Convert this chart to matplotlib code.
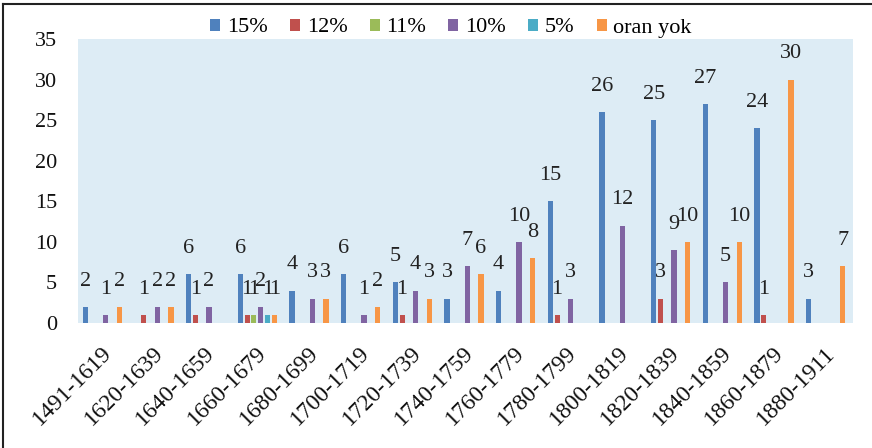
import matplotlib
matplotlib.use('Agg')
import matplotlib.pyplot as plt
import matplotlib.transforms as mtransforms
from matplotlib.patches import Patch
from matplotlib.lines import Line2D
import numpy as np

plt.rcParams['font.family'] = ['Liberation Serif', 'DejaVu Serif']

categories = ['1491-1619', '1620-1639', '1640-1659', '1660-1679', '1680-1699',
              '1700-1719', '1720-1739', '1740-1759', '1760-1779', '1780-1799',
              '1800-1819', '1820-1839', '1840-1859', '1860-1879', '1880-1911']
series_names = ['15%', '12%', '11%', '10%', '5%', 'oran yok']
v15 = [2, 0, 6, 6, 4, 6, 5, 3, 4, 15, 26, 25, 27, 24, 3]
v12 = [0, 1, 1, 1, 0, 0, 1, 0, 0, 1, 0, 3, 0, 1, 0]
v11 = [0, 0, 0, 1, 0, 0, 0, 0, 0, 0, 0, 0, 0, 0, 0]
v10 = [1, 2, 2, 2, 3, 1, 4, 7, 10, 3, 12, 9, 5, 0, 0]
v5 = [0, 0, 0, 1, 0, 0, 0, 0, 0, 0, 0, 0, 0, 0, 0]
vyok = [2, 2, 0, 1, 3, 2, 3, 6, 8, 0, 0, 10, 10, 30, 7]
series = [v15, v12, v11, v10, v5, vyok]
colors = ['#4F81BD', '#C0504D', '#9BBB59', '#8064A2', '#4BACC6', '#F79646']

fig = plt.figure(figsize=(8.72, 4.48), dpi=100)
ax = fig.add_axes([78 / 872, 125 / 448, 775 / 872, 284 / 448])
ax.set_facecolor('#DDECF5')
for s in ax.spines.values():
    s.set_visible(False)

x = np.arange(len(categories))
step = 0.1315
width = 0.1
for j, (vals, col) in enumerate(zip(series, colors)):
    xs = x + (j - 2.5) * step - 0.03
    heights = [v if v > 0 else np.nan for v in vals]
    ax.bar(xs, heights, width=width, color=col, linewidth=0)
    for xi, v in zip(xs, vals):
        if v > 0:
            ax.annotate(str(v), (xi, v), xytext=(0, 18.5), textcoords='offset points',
                        ha='center', va='center', fontsize=16, color='#222222')

ax.set_xlim(-0.5, len(categories) - 0.5)
ax.set_ylim(0, 35)
ax.set_yticks(range(0, 36, 5))
ax.tick_params(axis='y', length=0, pad=15, labelsize=16, labelcolor='#111111')
ax.set_xticks(x)
ax.set_xticklabels(categories, rotation=45, ha='right', va='top',
                   rotation_mode='anchor', fontsize=17, color='#111111')
ax.tick_params(axis='x', length=0, pad=14)
offset = mtransforms.ScaledTranslation(-3 / 100, 0, fig.dpi_scale_trans)
for lab in ax.get_xticklabels():
    lab.set_transform(lab.get_transform() + offset)

handles = [Patch(facecolor=c, edgecolor='none') for c in colors]
fig.legend(handles, series_names, loc='center', bbox_to_anchor=(451 / 872, 1 - 28 / 448),
           ncol=6, frameon=False, fontsize=16, handlelength=0.45, handleheight=0.45,
           handletextpad=0.3, columnspacing=1.0, borderpad=0)

fig.add_artist(Line2D([3 / 872, 3 / 872], [0, 1 - 4 / 448], transform=fig.transFigure,
                      color='#222222', linewidth=1.5))
fig.add_artist(Line2D([3 / 872, 1], [1 - 4 / 448, 1 - 4 / 448], transform=fig.transFigure,
                      color='#222222', linewidth=1.5))

fig.savefig('out.png', dpi=100, facecolor='white')
